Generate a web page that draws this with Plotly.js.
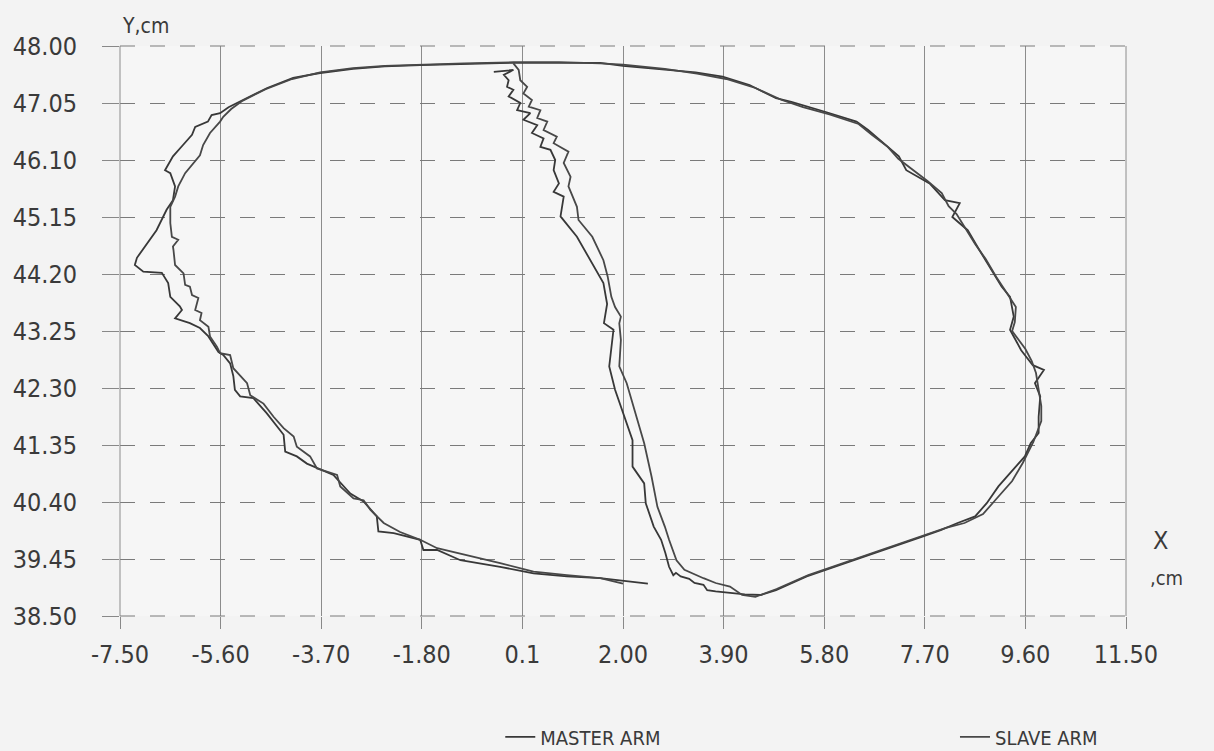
<!DOCTYPE html>
<html>
<head>
<meta charset="utf-8">
<script src="https://cdn.plot.ly/plotly-3.0.1.min.js"></script>
<style>html,body{margin:0;padding:0;background:#f3f3f3;}#chart{width:1214px;height:751px;}</style>
</head>
<body>
<div id="chart"></div>
<script>
// ---- data (cm) ----
const masterX = [2.47,1.85,1.57,0.94,0.31,-0.32,-1.07,-1.51,-1.77,-1.83,-2.33,-2.62,-2.65,-2.90,-3.15,-3.47,-3.75,-3.97,-4.16,-4.38,-4.41,-4.73,-4.98,-5.23,-5.33,-5.36,-5.42,-5.55,-5.64,-5.83,-5.99,-6.18,-6.46,-6.33,-6.37,-6.55,-6.59,-6.71,-7.06,-7.22,-7.18,-7.03,-6.81,-6.62,-6.50,-6.46,-6.55,-6.65,-6.50,-6.31,-6.14,-6.08,-5.84,-5.77,-5.61,-5.45,-5.29,-4.72,-4.23,-3.72,-3.10,-2.50,-1.83,-1.00,-0.07,0.80,1.57,2.00,2.79,3.37,3.88,4.39,4.89,5.18,5.83,6.41,6.63,6.92,7.21,7.35,7.79,8.08,8.36,8.22,8.51,8.73,8.95,9.15,9.31,9.38,9.31,9.52,9.74,9.95,9.78,9.88,9.85,9.85,9.70,9.59,9.31,9.09,8.87,8.65,8.32,8.00,7.64,6.92,6.19,5.47,4.89,4.60,4.30,4.02,3.75,3.59,3.52,3.35,3.25,3.09,3.00,2.95,2.87,2.80,2.72,2.58,2.43,2.40,2.18,2.18,2.00,1.85,1.74,1.82,1.64,1.70,1.63,1.49,1.13,0.82,0.88,0.69,0.79,0.69,0.72,0.63,0.44,0.50,0.28,0.38,0.12,0.25,0.00,0.06,-0.16,-0.07,-0.19,-0.16,-0.25,-0.07,-0.44];
const masterY = [39.04,39.10,39.13,39.16,39.21,39.32,39.43,39.60,39.60,39.77,39.88,39.91,40.16,40.41,40.54,40.85,40.96,41.04,41.16,41.24,41.52,41.88,42.13,42.16,42.27,42.50,42.71,42.85,42.90,43.16,43.30,43.38,43.46,43.60,43.66,43.82,44.05,44.22,44.24,44.35,44.47,44.66,44.93,45.27,45.43,45.66,45.88,45.93,46.16,46.35,46.52,46.65,46.74,46.85,46.88,46.98,47.05,47.30,47.47,47.55,47.62,47.66,47.68,47.70,47.72,47.72,47.72,47.67,47.60,47.56,47.49,47.35,47.13,47.07,46.90,46.74,46.60,46.38,46.16,45.93,45.71,45.43,45.38,45.15,44.93,44.60,44.27,43.99,43.82,43.49,43.27,42.93,42.68,42.60,42.38,42.16,41.82,41.55,41.38,41.16,40.88,40.66,40.38,40.16,40.05,39.93,39.82,39.60,39.38,39.16,38.93,38.85,38.86,38.88,38.91,38.93,39.02,39.05,39.12,39.16,39.22,39.18,39.32,39.55,39.77,39.99,40.38,40.71,40.99,41.43,41.88,42.27,42.66,43.27,43.38,43.70,44.05,44.27,44.82,45.16,45.49,45.57,45.71,45.93,46.10,46.27,46.32,46.46,46.55,46.68,46.77,46.88,46.93,47.05,47.16,47.27,47.32,47.43,47.52,47.60,47.57];

const slaveX = [2.00,1.57,0.94,0.31,-0.32,-1.07,-1.51,-1.83,-2.21,-2.52,-2.77,-2.90,-3.09,-3.34,-3.40,-3.78,-3.91,-4.16,-4.22,-4.41,-4.60,-4.79,-5.04,-5.10,-5.36,-5.42,-5.61,-5.67,-5.80,-5.83,-5.99,-5.96,-6.08,-6.02,-6.14,-6.18,-6.27,-6.30,-6.46,-6.49,-6.50,-6.40,-6.52,-6.55,-6.55,-6.46,-6.40,-6.27,-6.12,-5.99,-5.93,-5.80,-5.61,-5.55,-5.40,-5.20,-4.75,-4.25,-3.72,-3.10,-2.50,-1.83,-1.00,-0.07,0.80,1.57,2.00,2.79,3.40,3.95,4.50,5.00,5.40,5.90,6.45,6.70,7.00,7.20,7.45,7.75,8.02,8.15,8.30,8.45,8.65,8.85,9.05,9.20,9.42,9.40,9.35,9.60,9.72,9.80,9.85,9.90,9.90,9.82,9.75,9.55,9.35,9.05,8.80,8.45,8.10,7.70,7.00,6.20,5.50,4.90,4.50,4.25,4.02,3.75,3.52,3.16,3.01,2.87,2.79,2.65,2.54,2.40,2.25,2.07,1.93,1.96,1.93,1.96,1.85,1.78,1.71,1.63,1.42,1.16,1.13,0.97,1.01,0.88,0.97,0.69,0.75,0.50,0.57,0.38,0.44,0.22,0.28,0.12,0.19,0.06,0.03,-0.07];
const slaveY = [39.04,39.13,39.18,39.24,39.38,39.54,39.63,39.77,39.90,40.05,40.27,40.43,40.46,40.66,40.85,40.96,41.16,41.32,41.49,41.63,41.82,42.04,42.18,42.38,42.63,42.85,42.88,42.99,43.16,43.32,43.43,43.55,43.60,43.80,43.85,43.99,44.02,44.21,44.35,44.60,44.66,44.77,44.82,45.05,45.32,45.49,45.66,45.88,46.05,46.18,46.35,46.55,46.74,46.82,46.95,47.08,47.28,47.45,47.56,47.63,47.67,47.69,47.71,47.73,47.73,47.71,47.69,47.62,47.54,47.45,47.30,47.10,46.98,46.86,46.70,46.52,46.32,46.12,45.95,45.75,45.55,45.33,45.20,44.98,44.70,44.45,44.15,43.95,43.65,43.40,43.25,42.95,42.75,42.55,42.30,42.00,41.75,41.55,41.40,41.05,40.75,40.45,40.20,40.05,39.97,39.85,39.64,39.40,39.18,38.95,38.82,38.85,38.99,39.05,39.13,39.27,39.43,39.77,39.99,40.32,40.82,41.38,41.82,42.38,42.66,43.10,43.38,43.49,43.65,43.82,44.16,44.43,44.82,45.10,45.32,45.66,45.82,46.05,46.24,46.38,46.49,46.60,46.74,46.80,46.93,46.99,47.10,47.21,47.32,47.43,47.60,47.71];

const seriesNames = ['MASTER ARM', 'SLAVE ARM'];
const xTickVals = [-7.5,-5.6,-3.7,-1.8,0.1,2.0,3.9,5.8,7.7,9.6,11.5];
const xTickText = ['-7.50','-5.60','-3.70','-1.80','0.1','2.00','3.90','5.80','7.70','9.60','11.50'];
const yTickVals = [38.5,39.45,40.4,41.35,42.3,43.25,44.2,45.15,46.1,47.05,48.0];
const yTickText = ['38.50','39.45','40.40','41.35','42.30','43.25','44.20','45.15','46.10','47.05','48.00'];
const xTitle = ['X', ',cm'];
const yTitle = 'Y,cm';

// ---- styling ----
const FONT = '"DejaVu Sans Condensed", "DejaVu Sans", sans-serif';
const INK = '#3a3a3a';

const traces = [
  {x: masterX, y: masterY, name: seriesNames[0], mode: 'lines', type: 'scatter', legend: 'legend',
   line: {color: '#383838', width: 1.8}},
  {x: slaveX, y: slaveY, name: seriesNames[1], mode: 'lines', type: 'scatter', legend: 'legend2',
   line: {color: '#484848', width: 1.8}}
];

const legendBase = {orientation: 'h', xanchor: 'left', yanchor: 'middle', itemwidth: 30,
                    bgcolor: 'rgba(0,0,0,0)', font: {family: FONT, size: 20, color: INK}};

const layout = {
  width: 1214, height: 751,
  margin: {l: 120, r: 88, t: 46, b: 135, autoexpand: false},
  paper_bgcolor: '#f3f3f3',
  plot_bgcolor: '#f6f6f6',
  font: {family: FONT, color: INK, size: 22},
  showlegend: true,
  legend: Object.assign({}, legendBase, {x: 0.378, y: -0.212}),
  legend2: Object.assign({}, legendBase, {x: 0.830, y: -0.212}),
  xaxis: {range: [-7.5, 11.5], tickmode: 'array', tickvals: xTickVals, ticktext: xTickText,
          showgrid: true, gridcolor: '#8c8c8c', gridwidth: 1, zeroline: false,
          showline: false, ticks: 'outside', ticklen: 12, tickcolor: '#888', tickwidth: 1,
          ticklabelstandoff: 4,
          tickfont: {family: FONT, size: 25, color: INK}, fixedrange: true},
  yaxis: {range: [38.5, 48.0], tickmode: 'array', tickvals: yTickVals, ticktext: yTickText,
          showgrid: true, gridcolor: '#7a7a7a', gridwidth: 1, griddash: 'longdash', zeroline: false,
          showline: false, ticks: 'outside', ticklen: 17, tickcolor: '#888', tickwidth: 1,
          ticklabelstandoff: 20,
          tickfont: {family: FONT, size: 25, color: INK}, fixedrange: true},
  shapes: [
    {type: 'line', xref: 'paper', yref: 'paper', x0: 0, x1: 0, y0: 0, y1: 1, line: {color: '#8c8c8c', width: 1}},
    {type: 'line', xref: 'paper', yref: 'paper', x0: 1, x1: 1, y0: 0, y1: 1, line: {color: '#8c8c8c', width: 1}},
    {type: 'line', xref: 'paper', yref: 'paper', x0: 0, x1: 1, y0: 0, y1: 0, line: {color: '#7a7a7a', width: 1, dash: 'longdash'}},
    {type: 'line', xref: 'paper', yref: 'paper', x0: 0, x1: 1, y0: 1, y1: 1, line: {color: '#7a7a7a', width: 1, dash: 'longdash'}}
  ],
  annotations: [
    {text: yTitle, xref: 'paper', yref: 'paper', x: 0, y: 1, xanchor: 'left', yanchor: 'bottom', yshift: 6,
     showarrow: false, font: {family: FONT, size: 21, color: INK}},
    {text: xTitle[0], xref: 'paper', yref: 'paper', x: 1, y: 0.133, xanchor: 'left', yanchor: 'middle', xshift: 25,
     showarrow: false, font: {family: FONT, size: 25, color: INK}},
    {text: xTitle[1], xref: 'paper', yref: 'paper', x: 1, y: 0.067, xanchor: 'left', yanchor: 'middle', xshift: 22,
     showarrow: false, font: {family: FONT, size: 20, color: INK}}
  ]
};

Plotly.newPlot('chart', traces, layout, {displayModeBar: false, staticPlot: true});
</script>
</body>
</html>
